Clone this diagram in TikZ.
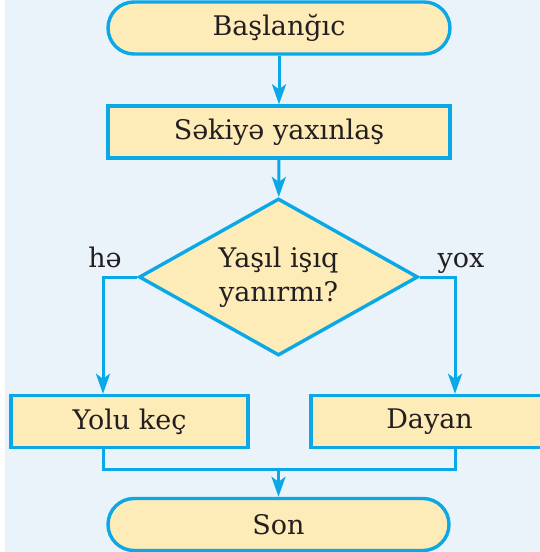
\documentclass[tikz,border=0pt]{standalone}
\usepackage{fontspec}
\setmainfont{DejaVu Serif}
\usetikzlibrary{shapes.geometric,arrows.meta,calc}
\definecolor{lineblue}{HTML}{0AA8E6}
\definecolor{boxfill}{HTML}{FDEBB8}
\definecolor{bgblue}{HTML}{EAF2FA}
\definecolor{txt}{HTML}{231F20}
\tikzset{
  conn/.style={draw=lineblue, line width=3pt, -{Stealth[length=20pt,width=14pt,inset=5pt]}},
  plain/.style={draw=lineblue, line width=3pt},
  termbox/.style={draw=lineblue, line width=3.4pt, fill=boxfill, rounded corners=26pt,
     minimum width=342pt, minimum height=52pt, inner sep=0pt, text=txt, font=\fontsize{27}{31}\selectfont},
  procbox/.style={draw=lineblue, line width=3.4pt, fill=boxfill,
     minimum height=52pt, inner sep=0pt, text=txt, font=\fontsize{27}{31}\selectfont},
  decbox/.style={diamond, draw=lineblue, line width=3.4pt, fill=boxfill, aspect=1.777,
     minimum width=279pt, minimum height=157pt, inner sep=0pt, align=center, text=txt,
     font=\fontsize{27}{34}\selectfont},
  lbl/.style={text=txt, font=\fontsize{27}{31}\selectfont, inner sep=0pt}
}
\begin{document}
\begin{tikzpicture}[x=1pt,y=1pt]
\useasboundingbox (0,0) rectangle (540,-552);
\fill[bgblue] (5,0) rectangle (540,-552);
\begin{scope}
\clip (0,0) rectangle (540,-552);
\node[termbox] (start) at (279,-28) {Başlanğıc};
\node[procbox, minimum width=342pt] (step1) at (279,-132) {Səkiyə yaxınlaş};
\node[decbox] (dec) at (278.5,-277) {Yaşıl işıq\\yanırmı?};
\node[procbox, minimum width=237pt] (yolu) at (129.5,-421.5) {Yolu keç};
\node[procbox, minimum width=237pt] (dayan) at (429.5,-421.5) {Dayan};
\node[termbox, minimum width=341pt] (son) at (278.5,-524.5) {Son};
\coordinate (hx) at (103,0);
\coordinate (yx) at (455,0);
\coordinate (j) at (278.5,-469);
\node[lbl, anchor=base] (he) at (105,-267) {hə};
\node[lbl, anchor=base] (yox) at (461,-267) {yox};
\draw[conn] (start) -- (step1);
\draw[conn] (step1) -- (dec);
\draw[conn] (dec.west) -| (hx |- yolu.north);
\draw[conn] (dec.east) -| (yx |- dayan.north);
\draw[plain] (hx |- yolu.south) |- (j) -| (yx |- dayan.south);
\draw[conn] (j) -- (son.north);
\end{scope}
\end{tikzpicture}
\end{document}
